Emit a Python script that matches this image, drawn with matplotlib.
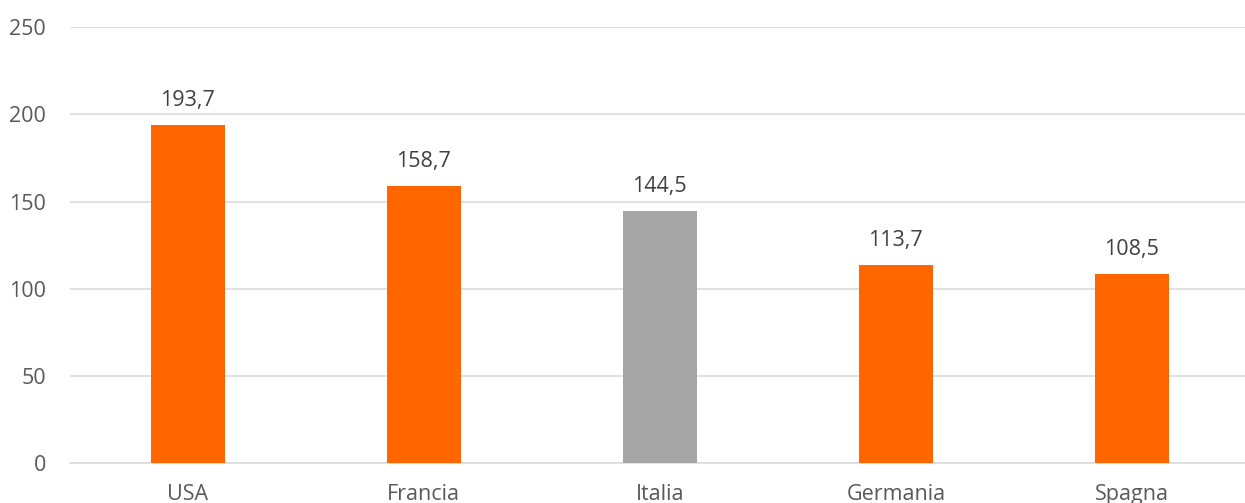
import matplotlib.pyplot as plt

# values
paesi = ['USA', 'Francia', 'Italia', 'Germania', 'Spagna']
valori = [193.7, 158.7, 144.5, 113.7, 108.5]
colori = ['#FF6600', '#FF6600', '#A5A5A5', '#FF6600', '#FF6600']
yticks = [0, 50, 100, 150, 200, 250]

plt.rcParams['font.family'] = ['Open Sans', 'DejaVu Sans']

fig = plt.figure(figsize=(12.45, 5.03), dpi=100)
ax = fig.add_axes([0.056, 0.0795, 0.948, 0.8665])

x = range(len(paesi))
bars = ax.bar(x, valori, width=0.315, color=colori, zorder=3)

for b, v in zip(bars, valori):
    ax.annotate(f'{v:.1f}'.replace('.', ','),
                (b.get_x() + b.get_width() / 2, v),
                xytext=(0, 10), textcoords='offset points',
                ha='center', va='bottom', fontsize=15.5, color='#404040')

ax.set_xlim(-0.5, len(paesi) - 0.5)
ax.set_ylim(0, 250)
ax.set_yticks(yticks)
ax.set_xticks(list(x))
ax.set_xticklabels(paesi)
ax.grid(axis='y', color='#D9D9D9', linewidth=1.1, zorder=0)
for s in ['top', 'right', 'left']:
    ax.spines[s].set_visible(False)
ax.spines['bottom'].set_color('#D9D9D9')
ax.spines['bottom'].set_linewidth(1.1)
ax.tick_params(axis='both', length=0, labelsize=15.5, colors='#595959')
ax.tick_params(axis='y', pad=17)
ax.tick_params(axis='x', pad=15)

fig.savefig('out.png', dpi=100)
